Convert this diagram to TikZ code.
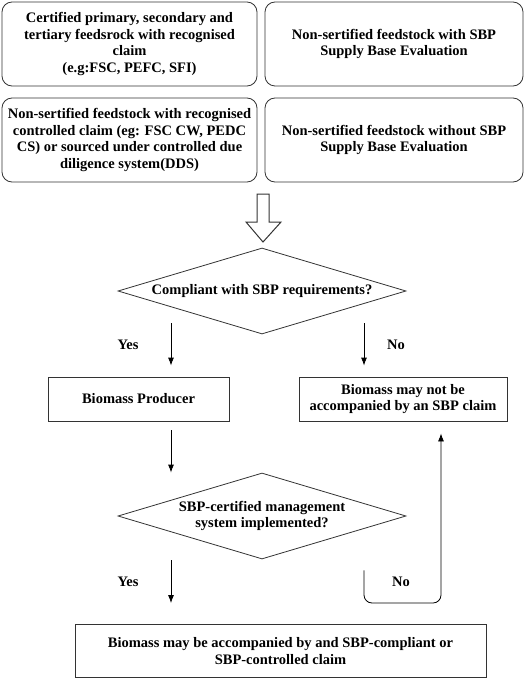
\documentclass[tikz,border=0pt]{standalone}
\usepackage{fontspec}
\setmainfont{Liberation Serif}
\usetikzlibrary{shapes.geometric,calc,arrows.meta}

\begin{document}
\begin{tikzpicture}[x=1pt,y=-1pt]
\tikzset{base/.style={font=\fontsize{14.5}{16.7}\selectfont\bfseries,align=center,inner sep=0pt},
  entry box/.style={base,draw=black!80,line width=0.8pt,rounded corners=10pt,minimum width=#1,minimum height=84pt},
  plain box/.style={base,draw=black!80,line width=0.8pt,minimum width=#1},
  decision/.style={base,draw=black!80,line width=0.8pt,diamond,aspect=3.35,inner sep=0pt,minimum width=288pt,minimum height=86pt},
  flow/.style={line width=0.8pt,-{Latex[length=8pt,width=6pt]}}}
\useasboundingbox (0,0) rectangle (527,679);
% Nodos
\node [entry box=255pt] (cert) at (129.5,44) {Certified primary, secondary and\\tertiary feedsrock with recognised\\claim\\(e.g:FSC, PEFC, SFI)};
\node [entry box=258pt] (sbpeval) at (394,44) {Non-sertified feedstock with SBP\\Supply Base Evaluation};
\node [entry box=255pt] (ctrl) at (129.5,140) {Non-sertified feedstock with recognised\\controlled claim (eg: FSC CW, PEDC\\CS) or sourced under controlled due\\diligence system(DDS)};
\node [entry box=258pt] (nosbp) at (394,140) {Non-sertified feedstock without SBP\\Supply Base Evaluation};
\node [decision] (comply) at (262,291) {Compliant with SBP requirements?};
\node [plain box=181pt,minimum height=44pt] (producer) at (138.5,399) {Biomass Producer};
\node [plain box=208pt,minimum height=44pt] (noclaim) at (403,399) {Biomass may not be\\accompanied by an SBP claim};
\node [decision] (mgmt) at (262,516) {SBP-certified management\\system implemented?};
\node [plain box=411pt,minimum height=53pt] (claim) at (280.5,651) {Biomass may be accompanied by and SBP-compliant or\\SBP-controlled claim};
\node [base] (yes1) at (128,345) {Yes};
\node [base] (no1) at (396,345) {No};
\node [base] (yes2) at (128,582) {Yes};
\node [base] (no2) at (401,582) {No};
\coordinate (colL) at (171,0);
\coordinate (colR) at (364,0);
\coordinate (colB) at (441,603);
% hollow arrow
\draw [draw=black!80,line width=1pt] (257,194) -- (269,194) -- (269,222) -- (281,222) -- (263,242) -- (246,222) -- (257,222) -- cycle;
% Flechas
\draw [flow,shorten >=11pt] ($(comply.south -| colL)+(0,-11)$) -- (producer.north -| colL);
\draw [flow,shorten >=11pt] ($(comply.south -| colR)+(0,-11)$) -- (noclaim.north -| colR);
\draw [flow,shorten <=9pt] (producer.south -| colL) -- (mgmt.north -| colL);
\draw [flow,shorten >=21pt] ($(mgmt.south -| colL)+(0,1)$) -- (claim.north -| colL);
\draw [flow,rounded corners=8pt,shorten >=12pt] ($(mgmt.south -| colR)+(0,11)$) |- (colB) -- (noclaim.south -| colB);
\end{tikzpicture}
\end{document}
